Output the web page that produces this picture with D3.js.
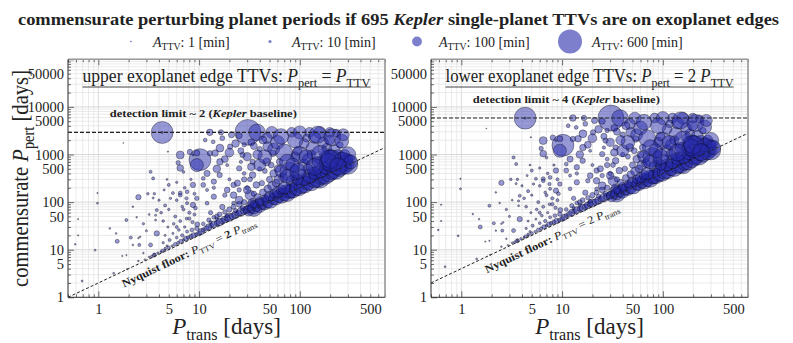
<!DOCTYPE html>
<html>
<head>
<meta charset="utf-8">
<script src="https://cdn.jsdelivr.net/npm/d3@7"></script>
<style>
body { margin: 0; background: #fff; }
text { font-family: "Liberation Serif", "DejaVu Serif", serif; fill: #222; }
</style>
</head>
<body>
<div id="chart"></div>
<script>
// transit period [days], TTV period [days], TTV amplitude [min] (one entry per planet)
var pTrans = [
  0.63, 0.59, 0.63, 0.98, 0.98, 0.93, 0.69, 1.3, 1.5, 1.54, 1.9, 1.77, 2.4, 2.5, 2.5, 3.1, 3.6, 3.5, 3.3, 3.5, 4.9, 3.8, 3.7, 3.7,
  1.42, 1.93, 1.73, 1.9, 2.5, 2.2, 2.55, 2.8, 3.3, 2.1, 2.6, 3.8, 4.6, 4.8, 3.6, 4.2, 4.6, 2.9, 3.2, 3.6,
  3.4, 3.9, 4.3, 4.6, 5.0, 5.4, 5.8, 6.2, 6.6, 7.0, 7.4, 7.8, 8.3, 8.8, 9.4, 10, 4.4, 5.1, 6.0, 6.8, 7.6, 8.5, 9.5, 5.5, 6.3, 7.2, 4.9, 5.6, 6.5, 7.5, 8.6, 9.6,
  4.2, 4.6, 5.5, 6.5, 7.6, 8.7, 5.2, 6.0, 7.0, 8.0, 9.2, 5.0, 6.5, 7.6, 8.7, 6.0, 9.0, 9.5, 7.2, 8.3, 4.5,
  6.5, 6.5, 8.1, 10.2, 9.5, 6.2, 8.7, 9.5, 7.0, 11, 11.5,
  12.8, 16.5, 13.8, 12.8, 16.1, 16.1, 14.4, 20.3, 16, 14, 22, 22, 25, 27, 12, 17, 22, 25, 13, 15, 18, 20, 28, 12, 14, 25, 19, 26,
  10.5, 11, 11.8, 12.5, 13.2, 14, 15, 16, 17, 18, 19, 20, 21.5, 23, 24.5, 26, 28, 30, 11, 12.5, 14, 16, 18, 20, 22, 25, 28, 13, 15, 19, 23, 27,
  30.5, 37.6, 52.7, 47, 83, 100, 125, 158, 198, 231, 43, 48, 54, 47, 63, 79, 85, 70, 34, 37, 34, 32, 35, 34, 80, 25, 33, 40, 28,
  31, 33, 35, 37, 40, 42, 45, 48, 51, 55, 58, 62, 66, 70, 75, 80, 86, 92, 98, 35, 40, 45, 50, 55, 60, 65, 70, 38, 43, 48, 53, 58, 62, 68, 42, 50, 55, 60, 45, 52, 35, 30, 32, 40,
  100, 134, 158, 158, 212, 212, 267, 134, 185, 250, 117, 198, 298, 110, 120, 90, 95, 110, 140, 170, 220, 240, 280, 300,
  105, 112, 120, 130, 140, 150, 165, 180, 195, 210, 230, 250, 275, 300, 110, 125, 140, 160, 180, 200, 230, 260, 120, 150, 180, 200, 130, 170, 105, 95, 88, 90,
  40, 45, 55, 60, 65, 70, 75, 90, 150, 160, 190, 210, 260, 300, 320, 270, 115, 85, 65, 75, 95, 140, 200, 240,
  12, 15, 18, 20, 23, 26, 30, 33, 38, 28, 24, 30, 14, 11, 19, 35, 17, 21,
  2.8, 3.2, 4.0, 4.4, 5.8, 6.8, 8.0, 9.0, 3.0, 5.0, 6.0, 7.5, 2.2, 4.8,
  4.3, 4.3
];
var pTTV = [
  20, 13, 44, 155, 95, 9.8, 2.2, 28, 22, 15, 42, 1750, 48, 17.6, 127, 150, 150, 122, 435, 315, 1150, 68, 53, 42,
  3.2, 3.9, 7.4, 7.7, 5.8, 12.6, 12.6, 8.5, 12.6, 18, 18.7, 22, 20, 12, 7.7, 9, 9.8, 6.2, 7, 8,
  7.2, 8.5, 9.5, 10.5, 11, 12, 13, 14, 15, 16, 17, 18, 19, 20, 21, 22, 14, 16, 18, 20, 24, 26, 28, 22, 26, 30, 30, 35, 40, 45, 38, 34,
  60, 85, 155, 155, 95, 87, 120, 110, 70, 60, 75, 230, 140, 165, 230, 260, 150, 120, 200, 300, 180,
  980, 520, 1130, 780, 600, 670, 980, 1070, 430, 315, 2010,
  2920, 2920, 1850, 1060, 1360, 700, 1070, 1460, 370, 270, 230, 140, 510, 980, 95, 79, 95, 110, 60, 50, 140, 300, 400, 180, 200, 180, 600, 700,
  24, 26, 28, 30, 32, 34, 36, 38, 40, 43, 46, 48, 50, 54, 58, 62, 65, 70, 35, 42, 48, 55, 62, 70, 80, 90, 100, 38, 44, 52, 66, 75,
  2920, 2920, 2900, 2200, 2920, 2900, 2920, 2900, 2900, 2800, 2010, 1460, 1060, 700, 700, 435, 270, 150, 700, 230, 370, 140, 75, 95, 165, 2500, 1800, 1300, 1600,
  66, 72, 75, 80, 85, 90, 95, 100, 108, 115, 122, 130, 138, 145, 155, 168, 178, 190, 205, 90, 105, 120, 135, 150, 165, 185, 200, 130, 160, 190, 220, 250, 300, 330, 250, 300, 400, 500, 450, 600, 150, 200, 300, 500,
  980, 1360, 600, 315, 830, 470, 700, 435, 1360, 1580, 2200, 2010, 600, 600, 800, 900, 1200, 1700, 2300, 1800, 1200, 900, 1000, 800,
  220, 235, 250, 270, 290, 310, 340, 370, 400, 430, 470, 520, 560, 620, 300, 350, 400, 450, 520, 600, 650, 800, 500, 700, 900, 1000, 1000, 1100, 400, 300, 350, 500,
  600, 900, 1300, 1800, 2400, 1100, 700, 2000, 2600, 1000, 700, 2300, 1900, 1000, 700, 2600, 900, 600, 450, 350, 450, 550, 800, 560,
  400, 500, 800, 1100, 1700, 1200, 900, 550, 1000, 300, 250, 180, 130, 230, 180, 1500, 2200, 2600,
  35, 55, 110, 40, 50, 80, 45, 55, 25, 70, 30, 120, 80, 300,
  2900, 2900
];
var aTTV = [
  2, 3, 2, 2, 4, 4, 4, 3, 3, 17, 10, 1, 3, 3, 30, 7, 7, 5, 10, 10, 2, 10, 5, 4,
  4, 2, 2, 2, 3, 3, 10, 3, 17, 10, 3, 30, 5, 5, 17, 5, 5, 3, 4, 5,
  8, 6, 10, 8, 12, 6, 15, 10, 20, 8, 25, 15, 20, 30, 15, 25, 6, 10, 8, 12, 10, 15, 20, 5, 8, 6, 5, 8, 10, 8, 12, 25,
  8, 10, 10, 17, 10, 30, 6, 8, 10, 12, 15, 10, 15, 15, 30, 6, 10, 20, 8, 6, 5,
  65, 45, 30, 500, 180, 20, 5, 37, 8, 15, 15,
  45, 30, 15, 30, 65, 45, 45, 30, 30, 30, 30, 45, 30, 30, 15, 30, 15, 65, 20, 25, 20, 10, 15, 10, 12, 20, 10, 12,
  40, 20, 30, 45, 25, 50, 30, 60, 35, 50, 40, 70, 45, 60, 40, 80, 50, 60, 15, 20, 15, 25, 20, 30, 25, 35, 30, 10, 12, 15, 20, 25,
  700, 290, 150, 120, 100, 180, 100, 150, 100, 65, 65, 100, 45, 65, 45, 400, 180, 100, 30, 45, 45, 100, 290, 100, 180, 40, 50, 30, 20,
  120, 80, 150, 100, 200, 120, 180, 150, 250, 120, 200, 150, 250, 180, 300, 200, 250, 200, 300, 60, 80, 60, 100, 70, 120, 90, 150, 40, 50, 60, 80, 60, 100, 80, 30, 40, 60, 50, 25, 35, 30, 20, 25, 20,
  290, 180, 290, 400, 290, 290, 400, 100, 100, 45, 65, 100, 180, 150, 120, 100, 80, 100, 150, 120, 150, 200, 100, 120,
  250, 300, 200, 350, 250, 300, 250, 350, 300, 250, 350, 300, 250, 400, 150, 200, 150, 200, 150, 200, 150, 200, 100, 120, 150, 100, 80, 80, 80, 120, 80, 60,
  150, 200, 150, 200, 250, 300, 250, 250, 300, 350, 300, 300, 200, 250, 200, 150, 200, 200, 150, 200, 250, 300, 350, 300,
  40, 60, 50, 80, 60, 40, 70, 60, 90, 30, 40, 60, 30, 25, 35, 50, 25, 40,
  6, 4, 6, 8, 10, 8, 12, 10, 5, 6, 10, 12, 3, 4,
  500, 5
];

var xTicks = [1, 5, 10, 50, 100, 500];
var yTicks = [1, 5, 10, 50, 100, 500, 1000, 5000, 10000, 50000];
var legendAmps = [1, 10, 100, 600];
var keplerBaseline = 1460;      // days
var pertFactors = [1, 2];       // P_pert = factor * P_TTV
var limitFactors = [2, 4];      // detection limit = factor * baseline

var W = 793, H = 343;
var plotTop = 59.3, plotBottom = 297.3, panelW = 317;
var panelLeft = [68, 431];
var fill = "rgb(38,42,172)";

function radius(a) { return 0.49 * Math.sqrt(a); }

// appends tspans; parts: {t, i, b, sub}
function rich(sel, parts, fs) {
  var shift = 0;
  parts.forEach(function(p) {
    var t = sel.append("tspan").text(p.t);
    if (p.i) t.attr("font-style", "italic");
    if (p.b) t.attr("font-weight", "bold");
    if (p.sub) t.attr("font-size", fs * 0.7);
    var want = p.sub ? fs * 0.25 : 0;
    if (want !== shift) { t.attr("dy", want - shift); shift = want; }
  });
  return sel;
}

var svg = d3.select("#chart").append("svg")
    .attr("width", W)
    .attr("height", H);

// title
rich(svg.append("text")
    .attr("x", 18).attr("y", 25)
    .attr("font-size", 16.5)
    .attr("font-weight", "bold")
    .attr("textLength", 761)
    .attr("lengthAdjust", "spacingAndGlyphs"),
  [{t: "commensurate perturbing planet periods if 695 "}, {t: "Kepler", i: 1},
   {t: " single-planet TTVs are on exoplanet edges"}], 16.5);

// legend
var legX = [131, 270, 417, 570];
legendAmps.forEach(function(a, i) {
  svg.append("circle")
    .attr("cx", legX[i]).attr("cy", 41.5)
    .attr("r", Math.max(radius(a), 0.7))
    .attr("fill", fill).attr("fill-opacity", a < 5 ? 0.9 : 0.6);
  rich(svg.append("text")
      .attr("x", legX[i] + 22).attr("y", 46.5)
      .attr("font-size", 14).attr("fill", "#333"),
    [{t: "A", i: 1}, {t: "TTV", sub: 1}, {t: ": " + a + " [min]"}], 14);
});

var panelTitles = [
  [{t: "upper exoplanet edge TTVs:  "}, {t: "P", i: 1}, {t: "pert", sub: 1}, {t: " = "}, {t: "P", i: 1}, {t: "TTV", sub: 1}],
  [{t: "lower exoplanet edge TTVs:  "}, {t: "P", i: 1}, {t: "pert", sub: 1}, {t: " = 2 "}, {t: "P", i: 1}, {t: "TTV", sub: 1}]
];

pertFactors.forEach(function(f, k) {
  var x0 = panelLeft[k];
  var x = d3.scaleLog().domain([0.5, 700]).range([x0, x0 + panelW]);
  var y = d3.scaleLog().domain([1, 1e5]).range([plotBottom, plotTop]);
  var g = svg.append("g");

  var xAll = x.ticks(), yAll = y.ticks();
  function isMajor(v) { return Math.abs(Math.log10(v) - Math.round(Math.log10(v))) < 1e-9; }

  // grid
  g.selectAll(".gx").data(xAll).enter().append("line")
    .attr("x1", x).attr("x2", x).attr("y1", plotTop).attr("y2", plotBottom)
    .attr("stroke", function(d) { return isMajor(d) ? "#cfcfcf" : "#e4e4e4"; })
    .attr("stroke-width", 0.8);
  g.selectAll(".gy").data(yAll).enter().append("line")
    .attr("y1", y).attr("y2", y).attr("x1", x0).attr("x2", x0 + panelW)
    .attr("stroke", function(d) { return isMajor(d) ? "#cfcfcf" : "#e4e4e4"; })
    .attr("stroke-width", 0.8);

  // clip
  g.append("clipPath").attr("id", "clip" + k)
    .append("rect").attr("x", x0).attr("y", plotTop).attr("width", panelW).attr("height", plotBottom - plotTop);
  var plot = g.append("g").attr("clip-path", "url(#clip" + k + ")");

  // planets
  plot.selectAll("circle")
    .data(pTrans)
    .enter().append("circle")
      .attr("cx", function(d) { return x(d); })
      .attr("cy", function(d, i) { return y(f * pTTV[i]); })
      .attr("r", function(d, i) { return radius(aTTV[i]); })
      .attr("fill", fill).attr("fill-opacity", 0.48)
      .attr("stroke", "#000").attr("stroke-opacity", 0.5).attr("stroke-width", 0.7);

  // detection limit
  var lim = limitFactors[k] * keplerBaseline;
  plot.append("line")
    .attr("x1", x0).attr("x2", x0 + panelW).attr("y1", y(lim)).attr("y2", y(lim))
    .attr("stroke", "#222").attr("stroke-width", 1.1).attr("stroke-dasharray", "4,2");
  rich(g.append("text")
      .attr("x", x(1.3)).attr("y", y(lim) - 15)
      .attr("font-size", 11).attr("font-weight", "bold")
      .attr("textLength", 187).attr("lengthAdjust", "spacingAndGlyphs"),
    [{t: "detection limit ~ " + limitFactors[k] + " ("}, {t: "Kepler", i: 1}, {t: " baseline)"}], 11);

  // Nyquist floor
  var nyq = function(p) { return 2 * f * p; };
  plot.append("line")
    .attr("x1", x(0.5)).attr("y1", y(nyq(0.5)))
    .attr("x2", x(700)).attr("y2", y(nyq(700)))
    .attr("stroke", "#222").attr("stroke-width", 1).attr("stroke-dasharray", "3,2");
  var ang = Math.atan2(y(nyq(10)) - y(nyq(1)), x(10) - x(1)) * 180 / Math.PI;
  rich(g.append("text")
      .attr("transform", "translate(" + x(1.55) + "," + y(nyq(1.55)) + ") rotate(" + ang + ")")
      .attr("x", 0).attr("y", 15)
      .attr("font-size", 11)
      .attr("textLength", 147).attr("lengthAdjust", "spacingAndGlyphs"),
    [{t: "Nyquist floor: ", b: 1}, {t: "P", i: 1}, {t: "TTV", sub: 1}, {t: " = "}, {t: "2 ", b: k === 0},
     {t: "P", i: 1}, {t: "trans", sub: 1}], 11);

  // panel title
  var cx = x0 + panelW / 2;
  rich(g.append("text")
      .attr("x", cx).attr("y", 82)
      .attr("text-anchor", "middle")
      .attr("font-size", 18).attr("fill", "#333")
      .attr("textLength", 288).attr("lengthAdjust", "spacingAndGlyphs"),
    panelTitles[k], 18);
  g.append("line")
    .attr("x1", cx - 144).attr("x2", cx + 144).attr("y1", 87).attr("y2", 87)
    .attr("stroke", "#444").attr("stroke-width", 1);

  // ticks (inward)
  function ticks(axis, vals, size, tr) {
    var a = g.append("g").attr("transform", tr)
      .call(axis.tickValues(vals).tickSize(size).tickFormat(""));
    a.select(".domain").remove();
    a.selectAll("line").attr("stroke", "#333").attr("stroke-width", 0.7);
  }
  var xMaj = xAll.filter(isMajor), xMin = xAll.filter(function(d) { return !isMajor(d); });
  var yMaj = yAll.filter(isMajor), yMin = yAll.filter(function(d) { return !isMajor(d); });
  ticks(d3.axisLeft(y), yMaj, -6, "translate(" + x0 + ",0)");
  ticks(d3.axisLeft(y), yMin, -3, "translate(" + x0 + ",0)");
  ticks(d3.axisBottom(x), xMaj, -6, "translate(0," + plotBottom + ")");
  ticks(d3.axisBottom(x), xMin, -3, "translate(0," + plotBottom + ")");
  ticks(d3.axisTop(x), xMaj, -6, "translate(0," + plotTop + ")");
  ticks(d3.axisTop(x), xMin, -3, "translate(0," + plotTop + ")");

  // spines
  g.append("line").attr("x1", x0).attr("x2", x0 + panelW).attr("y1", plotTop).attr("y2", plotTop)
    .attr("stroke", "#999").attr("stroke-width", 1.4);
  g.append("line").attr("x1", x0 + panelW).attr("x2", x0 + panelW).attr("y1", plotTop).attr("y2", plotBottom)
    .attr("stroke", "#999").attr("stroke-width", 1.6);
  g.append("line").attr("x1", x0).attr("x2", x0).attr("y1", plotTop).attr("y2", plotBottom)
    .attr("stroke", "#333").attr("stroke-width", 1);
  g.append("line").attr("x1", x0).attr("x2", x0 + panelW).attr("y1", plotBottom).attr("y2", plotBottom)
    .attr("stroke", "#333").attr("stroke-width", 1);

  // tick labels
  var yl = g.append("g").attr("transform", "translate(" + x0 + ",0)")
    .call(d3.axisLeft(y).tickValues(yTicks).tickSize(0).tickPadding(4).tickFormat(d3.format("d")));
  yl.select(".domain").remove();
  yl.attr("font-family", null).attr("font-size", null);
  yl.selectAll("text").attr("font-size", 14.5).attr("fill", "#333");

  var xl = g.append("g").attr("transform", "translate(0," + plotBottom + ")")
    .call(d3.axisBottom(x).tickValues(xTicks).tickSize(0).tickPadding(6).tickFormat(d3.format("d")));
  xl.select(".domain").remove();
  xl.attr("font-family", null).attr("font-size", null);
  xl.selectAll("text").attr("font-size", 14.5).attr("fill", "#333");

  // x label
  rich(g.append("text")
      .attr("x", cx).attr("y", 334)
      .attr("text-anchor", "middle")
      .attr("font-size", 23).attr("fill", "#333"),
    [{t: "P", i: 1}, {t: "trans", sub: 1}, {t: " [days]"}], 23);
});

// y label
rich(svg.append("text")
    .attr("transform", "translate(28,178.5) rotate(-90)")
    .attr("text-anchor", "middle")
    .attr("font-size", 23).attr("fill", "#333")
    .attr("textLength", 217).attr("lengthAdjust", "spacingAndGlyphs"),
  [{t: "commensurate "}, {t: "P", i: 1}, {t: "pert", sub: 1}, {t: " [days]"}], 23);
</script>
</body>
</html>
